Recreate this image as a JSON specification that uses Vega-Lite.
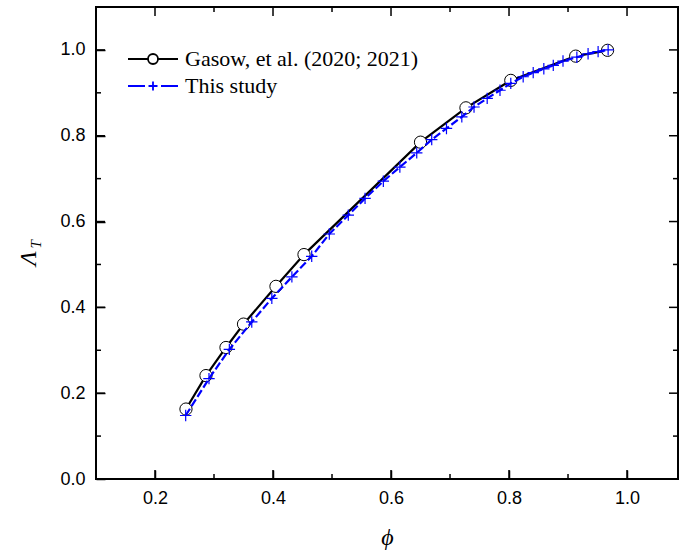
{
  "$schema": "https://vega.github.io/schema/vega-lite/v6.json",
  "autosize": "none",
  "width": 582,
  "height": 472,
  "padding": {"left": 96, "top": 7, "right": 2, "bottom": 72},
  "background": "white",
  "config": {
    "view": {"stroke": "black", "strokeWidth": 2},
    "axis": {"grid": false, "domain": false, "ticks": true, "zindex": 1, "tickColor": "black", "tickOpacity": 1, "tickWidth": 1.5, "labelColor": "black", "titleColor": "black"}
  },
  "datasets": {
    "pts": [
      {"series": "Gasow, et al. (2020; 2021)", "phi": 0.2525, "lam": 0.163},
      {"series": "Gasow, et al. (2020; 2021)", "phi": 0.2864, "lam": 0.241},
      {"series": "Gasow, et al. (2020; 2021)", "phi": 0.3203, "lam": 0.3065},
      {"series": "Gasow, et al. (2020; 2021)", "phi": 0.350, "lam": 0.361},
      {"series": "Gasow, et al. (2020; 2021)", "phi": 0.405, "lam": 0.449},
      {"series": "Gasow, et al. (2020; 2021)", "phi": 0.4525, "lam": 0.523},
      {"series": "Gasow, et al. (2020; 2021)", "phi": 0.650, "lam": 0.785},
      {"series": "Gasow, et al. (2020; 2021)", "phi": 0.727, "lam": 0.865},
      {"series": "Gasow, et al. (2020; 2021)", "phi": 0.803, "lam": 0.929},
      {"series": "Gasow, et al. (2020; 2021)", "phi": 0.913, "lam": 0.9855},
      {"series": "Gasow, et al. (2020; 2021)", "phi": 0.967, "lam": 0.999},
      {"series": "This study", "phi": 0.252, "lam": 0.148},
      {"series": "This study", "phi": 0.2915, "lam": 0.234},
      {"series": "This study", "phi": 0.326, "lam": 0.302},
      {"series": "This study", "phi": 0.364, "lam": 0.366},
      {"series": "This study", "phi": 0.398, "lam": 0.421},
      {"series": "This study", "phi": 0.432, "lam": 0.471},
      {"series": "This study", "phi": 0.4656, "lam": 0.519},
      {"series": "This study", "phi": 0.4954, "lam": 0.571},
      {"series": "This study", "phi": 0.5276, "lam": 0.615},
      {"series": "This study", "phi": 0.556, "lam": 0.654},
      {"series": "This study", "phi": 0.587, "lam": 0.694},
      {"series": "This study", "phi": 0.615, "lam": 0.727},
      {"series": "This study", "phi": 0.6436, "lam": 0.760},
      {"series": "This study", "phi": 0.669, "lam": 0.791},
      {"series": "This study", "phi": 0.694, "lam": 0.817},
      {"series": "This study", "phi": 0.720, "lam": 0.844},
      {"series": "This study", "phi": 0.7407, "lam": 0.867},
      {"series": "This study", "phi": 0.763, "lam": 0.887},
      {"series": "This study", "phi": 0.7847, "lam": 0.906},
      {"series": "This study", "phi": 0.803, "lam": 0.922},
      {"series": "This study", "phi": 0.824, "lam": 0.9375},
      {"series": "This study", "phi": 0.841, "lam": 0.947},
      {"series": "This study", "phi": 0.859, "lam": 0.956},
      {"series": "This study", "phi": 0.875, "lam": 0.964},
      {"series": "This study", "phi": 0.8915, "lam": 0.974},
      {"series": "This study", "phi": 0.915, "lam": 0.983},
      {"series": "This study", "phi": 0.934, "lam": 0.991},
      {"series": "This study", "phi": 0.951, "lam": 0.996},
      {"series": "This study", "phi": 0.968, "lam": 1.0}
    ],
    "xticks": [
      {"v": 0.2, "kind": "major"}, {"v": 0.3, "kind": "minor"}, {"v": 0.4, "kind": "major"}, {"v": 0.5, "kind": "minor"},
      {"v": 0.6, "kind": "major"}, {"v": 0.7, "kind": "minor"}, {"v": 0.8, "kind": "major"}, {"v": 0.9, "kind": "minor"},
      {"v": 1.0, "kind": "major"}
    ],
    "yticks": [
      {"v": 0.0, "kind": "major"}, {"v": 0.1, "kind": "minor"}, {"v": 0.2, "kind": "major"}, {"v": 0.3, "kind": "minor"},
      {"v": 0.4, "kind": "major"}, {"v": 0.5, "kind": "minor"}, {"v": 0.6, "kind": "major"}, {"v": 0.7, "kind": "minor"},
      {"v": 0.8, "kind": "major"}, {"v": 0.9, "kind": "minor"}, {"v": 1.0, "kind": "major"}
    ],
    "sub": [{"label": "T", "px": -0.0017, "py": 0.547}]
  },
  "layer": [
    {
      "data": {"name": "pts"},
      "transform": [{"filter": "datum.series === 'Gasow, et al. (2020; 2021)'"}],
      "mark": {"type": "line", "strokeWidth": 2.2},
      "encoding": {
        "x": {"field": "phi", "type": "quantitative", "scale": {"domain": [0.1, 1.0864], "nice": false, "zero": false},
              "axis": {"orient": "bottom", "values": [0.2, 0.4, 0.6, 0.8, 1.0], "format": ".1f", "offset": -9,
                       "ticks": true, "tickSize": 9, "tickWidth": 1.5, "tickColor": "black", "tickOpacity": 1, "tickDash": [], "labelPadding": 10,
                       "labelFont": "Liberation Sans", "labelFontSize": 18, "title": "ϕ", "titleFont": "Liberation Serif",
                       "titleFontStyle": "italic", "titleFontWeight": "normal", "titleFontSize": 24, "titleY": 67, "titleBaseline": "middle"}},
        "y": {"field": "lam", "type": "quantitative", "scale": {"domain": [0, 1.1], "nice": false},
              "axis": {"orient": "left", "values": [0, 0.2, 0.4, 0.6, 0.8, 1.0], "format": ".1f", "offset": -9,
                       "ticks": true, "tickSize": 9, "tickWidth": 1.5, "tickColor": "black", "tickOpacity": 1, "tickDash": [], "labelPadding": 11,
                       "labelFont": "Liberation Sans", "labelFontSize": 18, "title": "Λ", "titleFont": "Liberation Serif",
                       "titleFontStyle": "italic", "titleFontWeight": "normal", "titleFontSize": 24, "titleAngle": 270,
                       "titleX": -77, "titleY": 251, "titleAlign": "center", "titleBaseline": "middle"}},
        "color": {"field": "series", "type": "nominal",
                  "scale": {"domain": ["Gasow, et al. (2020; 2021)", "This study"], "range": ["black", "#0000ff"]},
                  "legend": {"orient": "none", "legendX": 46, "legendY": 41, "title": null, "padding": 0,
                             "labelFont": "Liberation Serif", "labelFontSize": 22, "labelColor": "black", "labelOffset": 21, "labelLimit": 500,
                             "symbolSize": 100, "rowPadding": 5,
                             "encode": {"symbols": {"update": {
                               "shape": {"signal": "datum.value === 'This study' ? 'M-5,0H-1.6M1.6,0H5M-0.9,0H0.9M0,-0.9V0.9' : 'M-5,0H-1M1,0H5M-1,0A1,1 0 1 0 1,0A1,1 0 1 0 -1,0'"},
                               "strokeWidth": {"value": 1.8},
                               "fill": {"value": "white"},
                               "strokeDash": {"value": []}}}}}}
      }
    },
    {
      "data": {"name": "pts"},
      "transform": [{"filter": "datum.series === 'Gasow, et al. (2020; 2021)'"}],
      "mark": {"type": "point", "shape": "circle", "size": 150, "filled": false, "fill": "white", "fillOpacity": 1, "stroke": "black", "strokeWidth": 1, "opacity": 1},
      "encoding": {
        "x": {"field": "phi", "type": "quantitative", "axis": null},
        "y": {"field": "lam", "type": "quantitative", "axis": null}
      }
    },
    {
      "data": {"name": "pts"},
      "transform": [{"filter": "datum.series === 'This study'"}],
      "mark": {"type": "line", "strokeWidth": 2.2, "strokeDash": [8, 3]},
      "encoding": {
        "x": {"field": "phi", "type": "quantitative", "axis": null},
        "y": {"field": "lam", "type": "quantitative", "axis": null},
        "color": {"field": "series", "type": "nominal"}
      }
    },
    {
      "data": {"name": "pts"},
      "transform": [{"filter": "datum.series === 'This study'"}],
      "mark": {"type": "point", "shape": "M-1,0H1M0,-1V1", "size": 130, "filled": false, "stroke": "#0000ff", "strokeWidth": 1.2, "opacity": 1},
      "encoding": {
        "x": {"field": "phi", "type": "quantitative", "axis": null},
        "y": {"field": "lam", "type": "quantitative", "axis": null}
      }
    },
    {
      "data": {"name": "xticks"},
      "mark": {"type": "tick", "orient": "vertical", "thickness": 1.5, "color": "black", "opacity": 1, "clip": true},
      "encoding": {
        "x": {"field": "v", "type": "quantitative", "axis": null},
        "y": {"datum": 0, "type": "quantitative", "axis": null},
        "size": {"field": "kind", "type": "nominal", "scale": {"domain": ["major", "minor"], "range": [18, 10]}, "legend": null}
      }
    },
    {
      "data": {"name": "xticks"},
      "mark": {"type": "tick", "orient": "vertical", "thickness": 1.5, "color": "black", "opacity": 1, "clip": true},
      "encoding": {
        "x": {"field": "v", "type": "quantitative", "axis": null},
        "y": {"datum": 1.1, "type": "quantitative", "axis": null},
        "size": {"field": "kind", "type": "nominal", "legend": null}
      }
    },
    {
      "data": {"name": "yticks"},
      "mark": {"type": "tick", "orient": "horizontal", "thickness": 1.5, "color": "black", "opacity": 1, "clip": true},
      "encoding": {
        "y": {"field": "v", "type": "quantitative", "axis": null},
        "x": {"datum": 0.1, "type": "quantitative", "axis": null},
        "size": {"field": "kind", "type": "nominal", "legend": null}
      }
    },
    {
      "data": {"name": "yticks"},
      "mark": {"type": "tick", "orient": "horizontal", "thickness": 1.5, "color": "black", "opacity": 1, "clip": true},
      "encoding": {
        "y": {"field": "v", "type": "quantitative", "axis": null},
        "x": {"datum": 1.0864, "type": "quantitative", "axis": null},
        "size": {"field": "kind", "type": "nominal", "legend": null}
      }
    },
    {
      "data": {"name": "sub"},
      "mark": {"type": "text", "angle": 270, "font": "Liberation Serif", "fontStyle": "italic", "fontSize": 15, "color": "black", "align": "center", "baseline": "middle", "clip": false},
      "encoding": {
        "x": {"field": "px", "type": "quantitative", "axis": null},
        "y": {"field": "py", "type": "quantitative", "axis": null},
        "text": {"field": "label"}
      }
    }
  ],
  "resolve": {"axis": {"x": "independent", "y": "independent"}}
}
